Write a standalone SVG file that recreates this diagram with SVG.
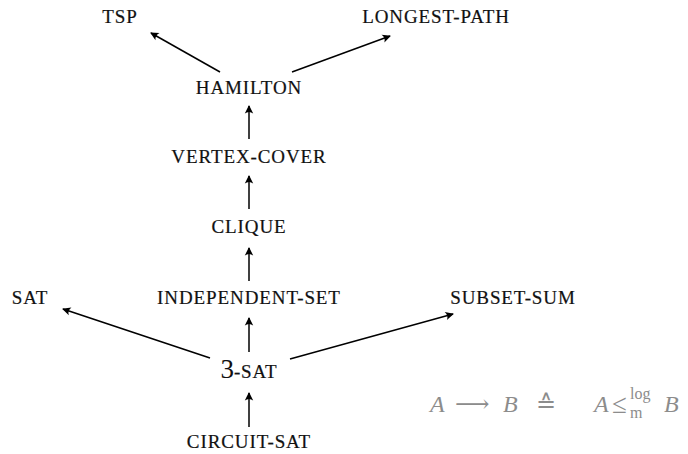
<svg xmlns="http://www.w3.org/2000/svg" width="688" height="454" viewBox="0 0 688 454">
<style>
.lbl{font-family:"Liberation Serif","DejaVu Serif",serif;font-size:19px;letter-spacing:0.9px;fill:#111;stroke:#111;stroke-width:0.2;text-anchor:middle}
.edge{stroke:#000;stroke-width:1.5;fill:none;marker-end:url(#ah)}
.f{font-family:"Liberation Serif","DejaVu Serif",serif;fill:#8c8c8c}
</style>
<defs>
<marker id="ah" viewBox="-9 -5 11 10" refX="0" refY="0" markerWidth="11" markerHeight="10" markerUnits="userSpaceOnUse" orient="auto">
<path d="M1,0 L-7.5,-4.2 Q-4.5,0 -7.5,4.2 Z" fill="#000"/>
</marker>
</defs>
<rect width="688" height="454" fill="#fff"/>
<g id="connectors">
<line class="edge" x1="220" y1="72" x2="151" y2="33"/>
<line class="edge" x1="292" y1="72" x2="390" y2="36"/>
<line class="edge" x1="249" y1="139" x2="249" y2="106"/>
<line class="edge" x1="249" y1="209" x2="249" y2="176"/>
<line class="edge" x1="249" y1="281" x2="249" y2="248"/>
<line class="edge" x1="249" y1="352" x2="249" y2="318"/>
<line class="edge" x1="210" y1="358" x2="63" y2="309"/>
<line class="edge" x1="290" y1="359" x2="453" y2="314"/>
<line class="edge" x1="249" y1="427" x2="249" y2="393"/>
</g>
<g id="tsp"><text class="lbl" x="120" y="23">TSP</text></g>
<g id="longest-path"><text class="lbl" x="436" y="23">LONGEST-PATH</text></g>
<g id="hamilton"><text class="lbl" x="249" y="94">HAMILTON</text></g>
<g id="vertex-cover"><text class="lbl" x="249" y="163">VERTEX-COVER</text></g>
<g id="clique"><text class="lbl" x="249" y="233">CLIQUE</text></g>
<g id="sat"><text class="lbl" x="30" y="304">SAT</text></g>
<g id="independent-set"><text class="lbl" x="249" y="304">INDEPENDENT-SET</text></g>
<g id="subset-sum"><text class="lbl" x="513" y="304">SUBSET-SUM</text></g>
<g id="three-sat"><text class="lbl" x="249" y="378"><tspan font-size="27" letter-spacing="0" stroke-width="0">3</tspan>-SAT</text></g>
<g id="circuit-sat"><text class="lbl" x="249" y="448">CIRCUIT-SAT</text></g>
<g id="legend">
<text class="f" x="430" y="412" font-size="24" font-style="italic">A</text>
<text class="f" x="455" y="412" font-size="24">⟶</text>
<text class="f" x="503" y="412" font-size="24" font-style="italic">B</text>
<text class="f" x="536" y="412" font-size="24">≙</text>
<text class="f" x="594" y="412" font-size="24" font-style="italic">A</text>
<text class="f" x="612" y="413" font-size="27">≤</text>
<text class="f" x="630" y="399" font-size="16">log</text>
<text class="f" x="630" y="418" font-size="16">m</text>
<text class="f" x="664" y="412" font-size="24" font-style="italic">B</text>
</g>
</svg>
